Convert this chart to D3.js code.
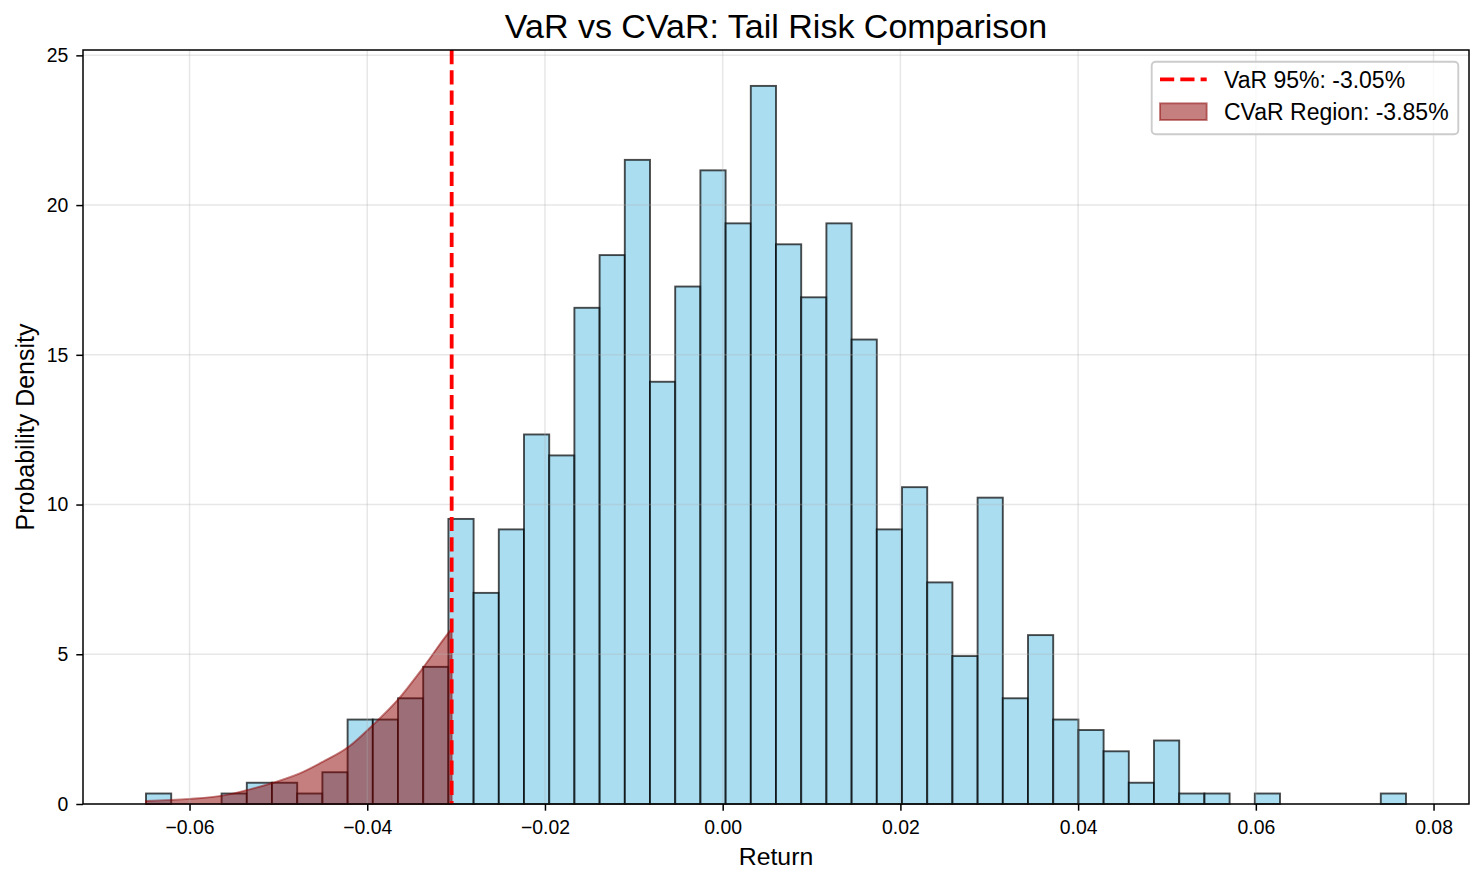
<!DOCTYPE html>
<html>
<head>
<meta charset="utf-8">
<script src="https://cdn.jsdelivr.net/npm/d3@7"></script>
<style>
  body { margin: 0; background: #fff; }
  svg { display: block; font-family: "Liberation Sans", Arial, sans-serif; }
</style>
</head>
<body>
<svg id="chart" width="1484" height="884"></svg>
<script>
// histogram: 50 bins between the smallest and largest return
const histMin = -0.0649;
const histMax = 0.0769;
const binCount = 50;
const density = [
  0.35, 0, 0, 0.35, 0.71, 0.71, 0.35, 1.06, 2.82, 2.82,
  3.53, 4.58, 9.52, 7.05, 9.17, 12.34, 11.64, 16.57, 18.33, 21.51,
  14.10, 17.28, 21.16, 19.39, 23.98, 18.69, 16.92, 19.39, 15.51, 9.17,
  10.58, 7.40, 4.94, 10.23, 3.53, 5.64, 2.82, 2.47, 1.76, 0.71,
  2.12, 0.35, 0.35, 0, 0.35, 0, 0, 0, 0, 0.35
];

// shaded tail curve (left of VaR)
const tailX = [-0.0649, -0.0600, -0.0563, -0.0532, -0.0506, -0.0476, -0.0450,
               -0.0421, -0.0394, -0.0365, -0.0338, -0.0308, -0.0305];
const tailY = [0.10, 0.17, 0.28, 0.49, 0.71, 1.02, 1.41,
               1.91, 2.63, 3.50, 4.52, 5.74, 5.85];

const varValue = -0.0305;
const cvarValue = -0.0385;

const xTicks = [-0.06, -0.04, -0.02, 0.00, 0.02, 0.04, 0.06, 0.08];
const yTicks = [0, 5, 10, 15, 20, 25];

const svg = d3.select("#chart");
const pLeft = 83, pRight = 1469, pTop = 50, pBottom = 804;

const span = histMax - histMin;
const x = d3.scaleLinear()
    .domain([histMin - 0.05 * span, histMax + 0.05 * span])
    .range([pLeft, pRight]);
const y = d3.scaleLinear()
    .domain([0, d3.max(density) * 1.05])
    .range([pBottom, pTop]);

const binW = span / binCount;
const bins = density.map((d, i) => ({x0: histMin + i * binW, x1: histMin + (i + 1) * binW, d: d}));

svg.append("rect").attr("width", 1484).attr("height", 884).attr("fill", "#fff");

// bars
svg.append("g")
  .selectAll("rect")
  .data(bins.filter(b => b.d > 0))
  .enter()
  .append("rect")
    .attr("x", b => x(b.x0))
    .attr("y", b => y(b.d))
    .attr("width", b => x(b.x1) - x(b.x0))
    .attr("height", b => y(0) - y(b.d))
    .attr("fill", "skyblue")
    .attr("fill-opacity", 0.7)
    .attr("stroke", "black")
    .attr("stroke-opacity", 0.7)
    .attr("stroke-width", 1.9);

// CVaR region
const tail = tailX.map((v, i) => [v, tailY[i]]);
const area = d3.area()
    .x(d => x(d[0]))
    .y0(y(0))
    .y1(d => y(d[1]))
    .curve(d3.curveMonotoneX);
svg.append("path")
    .datum(tail)
    .attr("d", area)
    .attr("fill", "darkred")
    .attr("fill-opacity", 0.5)
    .attr("stroke", "darkred")
    .attr("stroke-opacity", 0.5)
    .attr("stroke-width", 1.9);

// grid
const grid = svg.append("g").attr("stroke", "#b0b0b0").attr("stroke-opacity", 0.3).attr("stroke-width", 1.5);
grid.selectAll(".gx").data(xTicks).enter().append("line")
    .attr("x1", d => x(d)).attr("x2", d => x(d))
    .attr("y1", pTop).attr("y2", pBottom);
grid.selectAll(".gy").data(yTicks).enter().append("line")
    .attr("x1", pLeft).attr("x2", pRight)
    .attr("y1", d => y(d)).attr("y2", d => y(d));

// VaR line
svg.append("line")
    .attr("x1", x(varValue)).attr("x2", x(varValue))
    .attr("y1", pTop).attr("y2", pBottom)
    .attr("stroke", "red")
    .attr("stroke-width", 3.8)
    .attr("stroke-dasharray", "14.2,6.1");

// axes
const xAxis = d3.axisBottom(x).tickValues(xTicks).tickFormat(d3.format(".2f"))
    .tickSize(6.7).tickPadding(9.5);
const yAxis = d3.axisLeft(y).tickValues(yTicks).tickFormat(d3.format("d"))
    .tickSize(6.7).tickPadding(8);

const gx = svg.append("g").attr("transform", `translate(0,${pBottom})`).call(xAxis);
const gy = svg.append("g").attr("transform", `translate(${pLeft},0)`).call(yAxis);
[gx, gy].forEach(g => {
  g.select(".domain").remove();
  g.selectAll(".tick line").attr("stroke", "black").attr("stroke-width", 1.5);
  g.selectAll(".tick text").attr("fill", "black").style("font-size", "19.4px")
    .style("font-family", "'Liberation Sans', Arial, sans-serif");
});

svg.append("rect")
    .attr("x", pLeft).attr("y", pTop)
    .attr("width", pRight - pLeft).attr("height", pBottom - pTop)
    .attr("fill", "none").attr("stroke", "black").attr("stroke-width", 1.5);

// labels
svg.append("text")
    .attr("x", (pLeft + pRight) / 2).attr("y", 38)
    .attr("text-anchor", "middle")
    .style("font-size", "34px")
    .text("VaR vs CVaR: Tail Risk Comparison");
svg.append("text")
    .attr("x", (pLeft + pRight) / 2).attr("y", 865)
    .attr("text-anchor", "middle")
    .style("font-size", "24.8px")
    .text("Return");
svg.append("text")
    .attr("transform", `translate(34,${(pTop + pBottom) / 2}) rotate(-90)`)
    .attr("text-anchor", "middle")
    .style("font-size", "25px")
    .text("Probability Density");

// legend
const lg = svg.append("g");
lg.append("rect")
    .attr("x", 1151.7).attr("y", 61.7).attr("width", 306.6).attr("height", 72.6)
    .attr("rx", 4)
    .attr("fill", "white").attr("fill-opacity", 0.8)
    .attr("stroke", "#cccccc").attr("stroke-width", 1.9);
lg.append("line")
    .attr("x1", 1160).attr("x2", 1206.7).attr("y1", 79.3).attr("y2", 79.3)
    .attr("stroke", "red").attr("stroke-width", 3.8)
    .attr("stroke-dasharray", "14.2,6.1");
lg.append("rect")
    .attr("x", 1160).attr("y", 103.3).attr("width", 46.7).attr("height", 16.7)
    .attr("fill", "darkred").attr("fill-opacity", 0.5)
    .attr("stroke", "darkred").attr("stroke-opacity", 0.5).attr("stroke-width", 1.9);
lg.append("text").attr("x", 1224).attr("y", 87.5).style("font-size", "23px")
    .text(`VaR 95%: ${(varValue * 100).toFixed(2)}%`);
lg.append("text").attr("x", 1224).attr("y", 120).style("font-size", "23px")
    .text(`CVaR Region: ${(cvarValue * 100).toFixed(2)}%`);
</script>
</body>
</html>
